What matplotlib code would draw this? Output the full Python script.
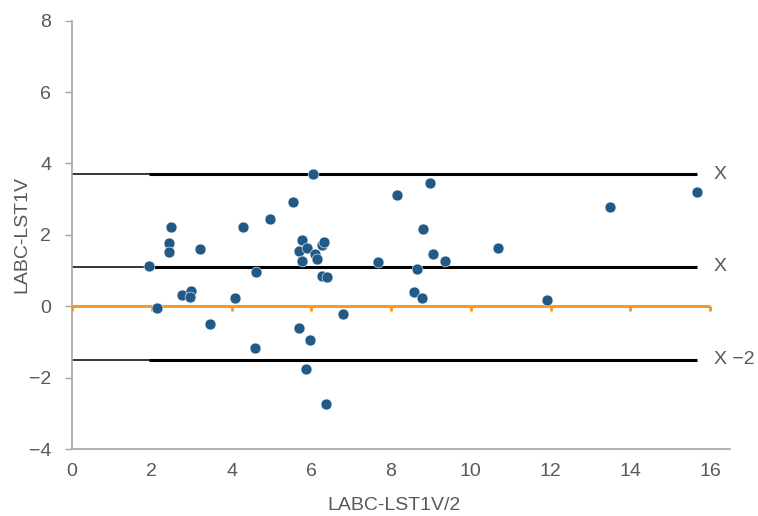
import matplotlib
matplotlib.use("Agg")
import matplotlib.pyplot as plt
import numpy as np

plt.rcParams['font.family'] = ['Liberation Sans', 'DejaVu Sans']

# Data (mean of two measurements vs difference)
x_vals = [1.93, 2.13, 2.48, 2.43, 2.43, 2.76, 2.98, 2.96, 3.21, 3.46,
          4.09, 4.29, 4.61, 4.59, 4.96, 5.54, 5.69, 5.76, 5.69, 5.89,
          5.76, 5.96, 5.86, 6.04, 6.09, 6.15, 6.26, 6.32, 6.27, 6.39,
          6.37, 6.79, 7.67, 8.14, 8.66, 8.58, 8.77, 8.80, 8.97, 9.06,
          9.35, 10.67, 11.90, 13.50, 15.67]
y_vals = [1.13, -0.05, 2.22, 1.77, 1.52, 0.32, 0.43, 0.27, 1.60, -0.49,
          0.23, 2.21, 0.95, -1.17, 2.45, 2.92, -0.61, 1.86, 1.56, 1.64,
          1.28, -0.95, -1.76, 3.71, 1.45, 1.32, 1.72, 1.80, 0.84, 0.81,
          -2.75, -0.21, 1.24, 3.12, 1.03, 0.41, 0.24, 2.16, 3.44, 1.45,
          1.28, 1.64, 0.17, 2.77, 3.21]

mean_diff = 1.10
upper_loa = 3.70
lower_loa = -1.50
line_labels = ["X", "X", "X \u22122"]

x_ticks = [0, 2, 4, 6, 8, 10, 12, 14, 16]
y_ticks = [-4, -2, 0, 2, 4, 6, 8]
y_ticklabels = ["\u22124", "\u22122", "0", "2", "4", "6", "8"]

grey = '#595959'
axis_grey = '#A6A6A6'
orange = '#F7941D'
blue = '#215A87'

fig = plt.figure(figsize=(7.58, 5.16), dpi=100)
ax = fig.add_axes([72/758, 1-449/516, (730-72)/758, (449-20.7)/516])

ax.set_xlim(0, 16.5)
ax.set_ylim(-4, 8)

# reference lines
xmin, xmax = min(x_vals), max(x_vals)
for yv, lab in zip([upper_loa, mean_diff, lower_loa], line_labels):
    ax.plot([0, xmax], [yv, yv], color='#262626', lw=1.3, zorder=2, solid_capstyle='butt')
    ax.plot([xmin, xmax], [yv, yv], color='black', lw=2.2, zorder=2, solid_capstyle='butt')
    ax.text(16.1, yv, lab, color=grey, fontsize=14, va='center', ha='left', clip_on=False)

# orange zero axis with downward ticks
ax.plot([0, 16], [0, 0], color=orange, lw=2.0, zorder=3, solid_capstyle='butt')
tick_len = 5 / 35.7
for xt in x_ticks:
    ax.plot([xt, xt], [0, -tick_len], color=orange, lw=2.0, zorder=3, solid_capstyle='butt')

# points
ax.scatter(x_vals, y_vals, s=62, color=blue, edgecolors='white', linewidths=0.4, zorder=4)

# spines
for s in ['top', 'right']:
    ax.spines[s].set_visible(False)
ax.spines['left'].set_color(axis_grey)
ax.spines['bottom'].set_color(axis_grey)
ax.spines['left'].set_linewidth(1.2)
ax.spines['bottom'].set_linewidth(1.2)

ax.set_yticks(y_ticks)
ax.set_yticklabels(y_ticklabels)
ax.set_xticks(x_ticks)
ax.tick_params(axis='y', direction='out', length=5, width=1, color=axis_grey,
               labelsize=14, labelcolor=grey, pad=10)
ax.tick_params(axis='x', length=0, labelsize=14, labelcolor=grey, pad=10)

fig.text(22/758, 1-235/516, "LABC-LST1V", rotation=90, ha='center', va='center',
         fontsize=14, color=grey)
fig.text(394/758, 1-505/516, "LABC-LST1V/2", ha='center', va='center',
         fontsize=14, color=grey)

fig.savefig('out.png', dpi=100)
